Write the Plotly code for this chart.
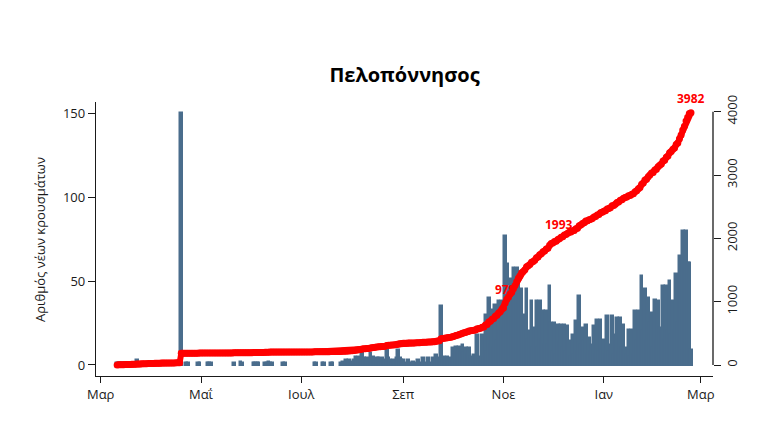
import numpy as np
import pandas as pd
import plotly.graph_objects as go

# Daily new cases, Peloponnese, 11 Mar 2020 - 23 Feb 2021
mar_2020 = [1,1,1,1,1,1,1,1,1,1,1,1,3,1,1,1,1,1,1,1,1]
apr_2020 = [1,1,1,1,1,1,1,0,1,1,0,0,1,0,0,1,0,0,150,0,0,1,1,0,0,0,0,0,1,1]
may_2020 = [0,0,0,0,1,1,1,0,0,0,0,0,0,0,0,0,0,0,0,0,1,0,0,0,2,1,0,0,0,0,0]
jun_2020 = [0,1,1,1,1,0,0,0,1,1,2,1,1,0,0,0,0,0,0,1,1,0,0,0,0,0,0,0,0,0]
jul_2020 = [0,0,0,0,0,0,0,0,1,1,0,0,0,1,1,0,0,0,1,1,0,0,0,0,1,2,0,3,1,3,2]
aug_2020 = [1,3,5,2,5,3,7,4,2,4,1,7,3,5,2,4,4,1,4,2,3,9,4,3,1,3,2,4,9,4,3]
sep_2020 = [3,0,1,3,0,1,2,0,1,3,0,1,4,0,1,4,1,0,4,1,6,4,2,35,2,5,3,5,2,4]
oct_2020 = [10,6,11,7,11,8,12,7,10,6,10,5,3,6,4,18,3,5,18,4,30,8,40,12,33,10,36,14,38,20,38]
nov_2020 = [22,77,60,30,51,28,58,50,58,55,42,45,20,30,45,15,20,38,10,22,38,10,38,15,32,12,32,12,47,25]
dec_2020 = [8,25,6,24,13,24,10,24,8,23,14,5,18,6,26,8,41,12,22,14,24,6,16,8,12,23,6,27,8,27,9]
jan_2021 = [15,6,29,8,12,29,6,18,28,8,28,10,24,10,6,21,5,21,6,32,14,32,20,53,20,45,14,40,25,31,10]
feb_2021 = [39,14,38,22,20,47,15,47,20,50,18,38,20,54,25,65,59,80,60,80,61,61,9]

months = [mar_2020, apr_2020, may_2020, jun_2020, jul_2020, aug_2020,
          sep_2020, oct_2020, nov_2020, dec_2020, jan_2021, feb_2021]
month_lengths = [21, 30, 31, 30, 31, 31, 30, 31, 30, 31, 31, 23]
for m, n in zip(months, month_lengths):
    assert len(m) == n, (len(m), n)

daily = sum(months, [])
dates = pd.date_range("2020-03-11", periods=len(daily), freq="D")
cumulative = np.cumsum(daily)

label_dates = ["2020-11-02", "2020-12-05", "2021-02-23"]

tick_dates = ["2020-03-01", "2020-05-01", "2020-07-01", "2020-09-01",
              "2020-11-01", "2021-01-01", "2021-03-01"]
tick_labels = ["Μαρ", "Μαΐ", "Ιουλ", "Σεπ", "Νοε", "Ιαν", "Μαρ"]

left_ticks = [0, 50, 100, 150]
right_ticks = [0, 1000, 2000, 3000, 4000]

BAR = "#4a6d8c"
FONT = "Open Sans"
INK = "#1a1a1a"

fig = go.Figure()
fig.add_trace(go.Bar(
    x=dates, y=[v if v > 0 else None for v in daily],
    width=86400000,
    marker=dict(color=BAR, line=dict(color=BAR, width=2.5)),
    yaxis="y", hoverinfo="x+y",
))
fig.add_trace(go.Scatter(
    x=dates, y=cumulative, mode="lines+markers",
    line=dict(color="#ff0000", width=6),
    marker=dict(color="#ff0000", size=7),
    yaxis="y2",
))

cum_series = pd.Series(cumulative, index=dates)
for d in label_dates:
    val = int(cum_series[pd.Timestamp(d)])
    fig.add_annotation(
        x=pd.Timestamp(d), y=val, xref="x", yref="y2",
        text=f"<b>{val}</b>", showarrow=False, yshift=14,
        font=dict(family=FONT, size=12, color="#ff0000"),
    )

fig.add_annotation(
    x=-0.0908, y=0.5, xref="paper", yref="paper",
    text="Αριθμός νέων κρουσμάτων", textangle=-90, showarrow=False,
    xanchor="center", yanchor="middle",
    font=dict(family=FONT, size=13, color=INK),
)

fig.add_shape(type="line", xref="paper", yref="y2", x0=1, x1=1, y0=0, y1=4000,
              line=dict(color=INK, width=1.3))

x0 = pd.Timestamp("2020-03-01") - pd.Timedelta(days=2.86)
x1 = pd.Timestamp("2021-03-01") + pd.Timedelta(days=7.4)

fig.update_layout(
    width=770, height=445,
    margin=dict(l=96, r=57, t=102, b=69),
    paper_bgcolor="white", plot_bgcolor="white",
    showlegend=False, bargap=0,
    font=dict(family=FONT, color=INK),
    title=dict(text="<b>Πελοπόννησος</b>", x=0.5, xref="paper", xanchor="center",
               y=1 - 75 / 445, yref="container", yanchor="middle",
               font=dict(family=FONT, size=20, color="#000000")),
    xaxis=dict(type="date", range=[x0, x1], tickvals=tick_dates, ticktext=tick_labels,
               ticks="outside", ticklen=6, tickwidth=1.3, tickcolor=INK,
               showline=True, linecolor=INK, linewidth=1.3,
               showgrid=False, zeroline=False, tickfont=dict(size=13)),
    yaxis=dict(range=[-6.56, 156.7], tickvals=left_ticks,
               ticks="outside", ticklen=7, tickwidth=1.3, tickcolor=INK,
               showline=True, linecolor=INK, linewidth=1.3,
               showgrid=False, zeroline=False, tickfont=dict(size=13)),
    yaxis2=dict(overlaying="y", side="right", range=[-173.7, 4153], tickvals=right_ticks,
                ticks="outside", ticklen=7, tickwidth=1.3, tickcolor=INK,
                showline=False, tickangle=-90,
                showgrid=False, zeroline=False, tickfont=dict(size=13)),
)

fig.write_html("out.html")
